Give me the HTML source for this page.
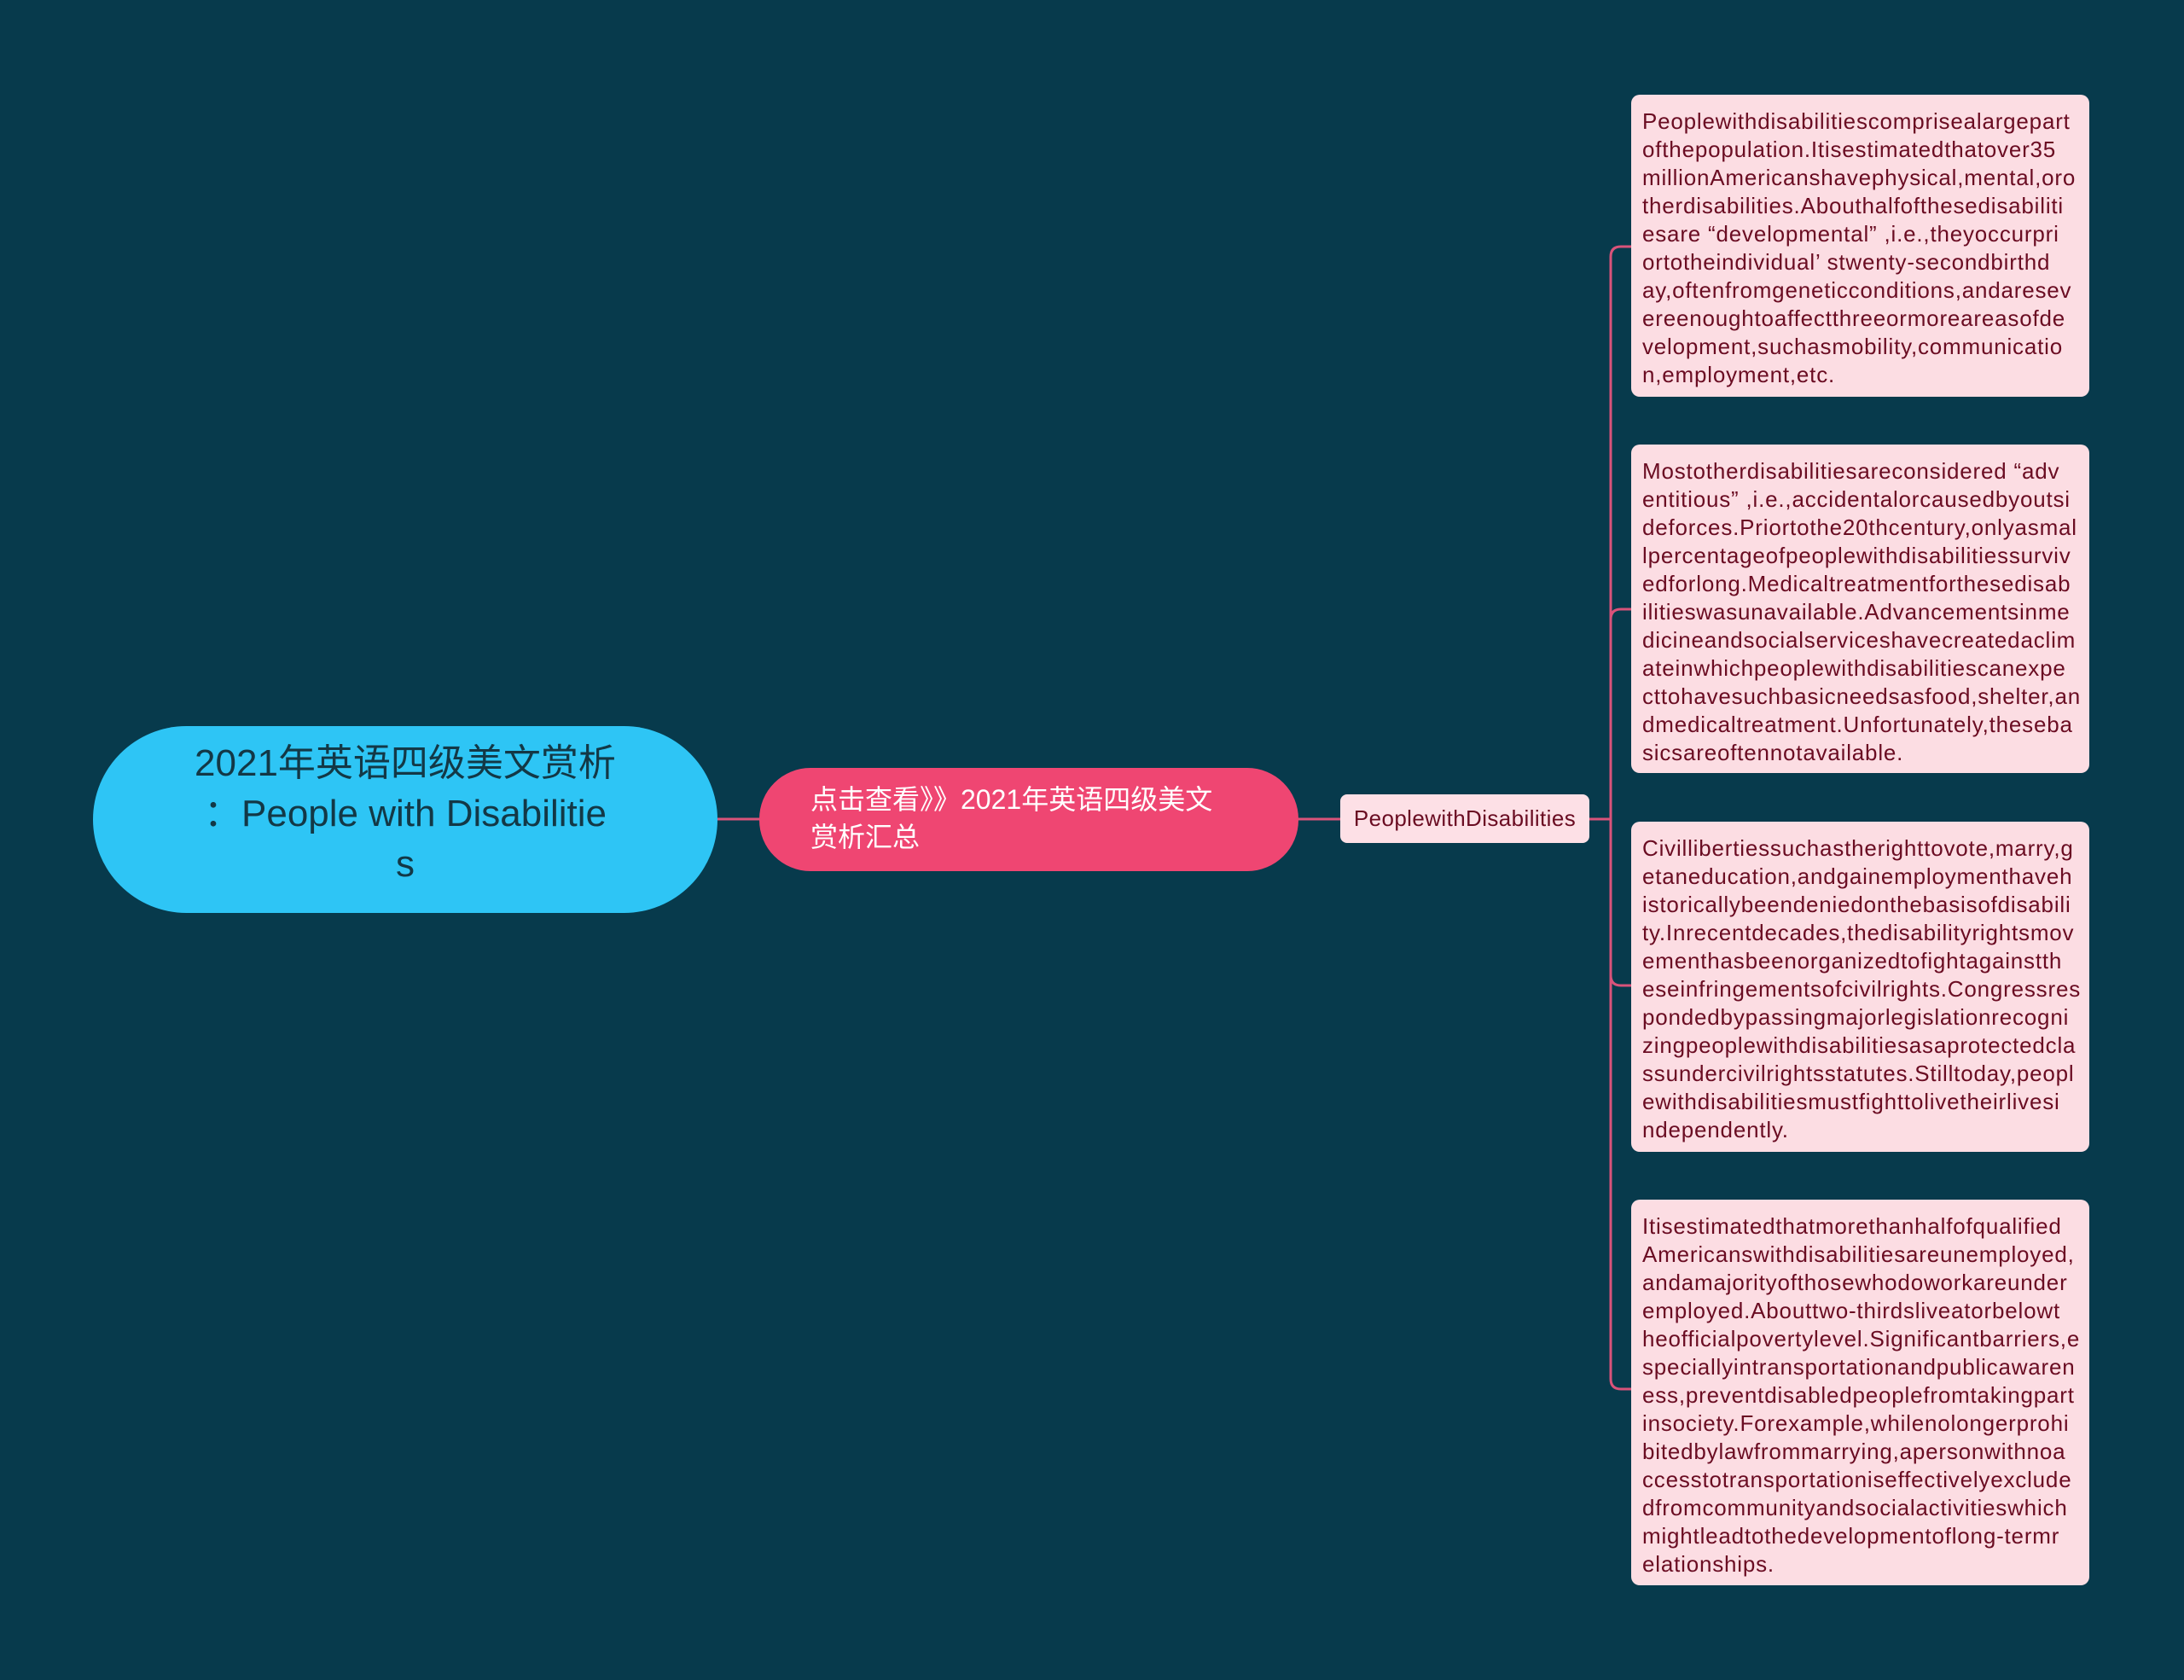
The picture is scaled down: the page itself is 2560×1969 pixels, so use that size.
<!DOCTYPE html>
<html><head><meta charset="utf-8"><style>
body{margin:0;width:2560px;height:1969px;background:#073a4c;position:relative;overflow:hidden;font-family:"Liberation Sans","Noto Sans CJK SC",sans-serif}
.a{position:absolute;box-sizing:border-box}
.box{background:#fcdde3;border-radius:10px;left:1912px;width:537px;padding:15px 0 0 13px;color:#6a0c22;font-size:26px;line-height:33px;letter-spacing:0.8px;white-space:nowrap}
</style></head><body>
<svg class="a" style="left:0;top:0" width="2560" height="1969">
<g stroke="#d9537a" stroke-width="3" fill="none">
<line x1="841" y1="960" x2="890" y2="960"/>
<line x1="1522" y1="960" x2="1571" y2="960"/>
<line x1="1863" y1="960" x2="1888" y2="960"/>
<path d="M1912 289 H1900 Q1888 289 1888 301 V1616 Q1888 1628 1900 1628 H1912"/>
<path d="M1888 726 Q1888 714 1900 714 H1912"/>
<path d="M1888 1143 Q1888 1155 1900 1155 H1912"/>
</g></svg>
<div class="a" style="left:109px;top:851px;width:732px;height:219px;border-radius:110px;background:#2ec5f5;color:#133846;font-size:44px;line-height:59px;text-align:center;padding-top:14px">2021年英语四级美文赏析<br>：People with Disabilitie<br>s</div>
<div class="a" style="left:890px;top:900px;width:632px;height:121px;border-radius:60px;background:#ef4672;color:#fff;font-size:32px;line-height:44px;padding:15px 0 0 60px;white-space:nowrap">点击查看》》2021年英语四级美文<br>赏析汇总</div>
<div class="a" style="left:1571px;top:931px;width:292px;height:57px;border-radius:8px;background:#fde0e6;color:#6a0c22;font-size:26px;line-height:57px;text-align:center;letter-spacing:0.4px;white-space:nowrap">PeoplewithDisabilities</div>
<div class="a box" style="top:111px;height:354px">Peoplewithdisabilitiescomprisealargepart<br>ofthepopulation.Itisestimatedthatover35<br>millionAmericanshavephysical,mental,oro<br>therdisabilities.Abouthalfofthesedisabiliti<br>esare “developmental” ,i.e.,theyoccurpri<br>ortotheindividual’ stwenty-secondbirthd<br>ay,oftenfromgeneticconditions,andaresev<br>ereenoughtoaffectthreeormoreareasofde<br>velopment,suchasmobility,communicatio<br>n,employment,etc.</div>
<div class="a box" style="top:521px;height:385px">Mostotherdisabilitiesareconsidered “adv<br>entitious” ,i.e.,accidentalorcausedbyoutsi<br>deforces.Priortothe20thcentury,onlyasmal<br>lpercentageofpeoplewithdisabilitiessurviv<br>edforlong.Medicaltreatmentforthesedisab<br>ilitieswasunavailable.Advancementsinme<br>dicineandsocialserviceshavecreatedaclim<br>ateinwhichpeoplewithdisabilitiescanexpe<br>cttohavesuchbasicneedsasfood,shelter,an<br>dmedicaltreatment.Unfortunately,theseba<br>sicsareoftennotavailable.</div>
<div class="a box" style="top:963px;height:387px">Civillibertiessuchastherighttovote,marry,g<br>etaneducation,andgainemploymenthaveh<br>istoricallybeendeniedonthebasisofdisabili<br>ty.Inrecentdecades,thedisabilityrightsmov<br>ementhasbeenorganizedtofightagainstth<br>eseinfringementsofcivilrights.Congressres<br>pondedbypassingmajorlegislationrecogni<br>zingpeoplewithdisabilitiesasaprotectedcla<br>ssundercivilrightsstatutes.Stilltoday,peopl<br>ewithdisabilitiesmustfighttolivetheirlivesi<br>ndependently.</div>
<div class="a box" style="top:1406px;height:452px">Itisestimatedthatmorethanhalfofqualified<br>Americanswithdisabilitiesareunemployed,<br>andamajorityofthosewhodoworkareunder<br>employed.Abouttwo-thirdsliveatorbelowt<br>heofficialpovertylevel.Significantbarriers,e<br>speciallyintransportationandpublicawaren<br>ess,preventdisabledpeoplefromtakingpart<br>insociety.Forexample,whilenolongerprohi<br>bitedbylawfrommarrying,apersonwithnoa<br>ccesstotransportationiseffectivelyexclude<br>dfromcommunityandsocialactivitieswhich<br>mightleadtothedevelopmentoflong-termr<br>elationships.</div>
</body></html>
